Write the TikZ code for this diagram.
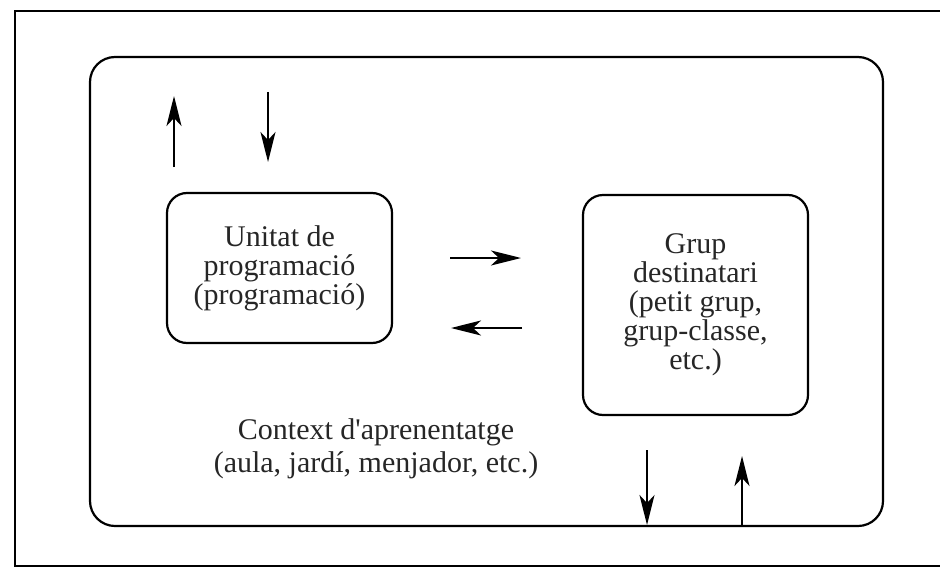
\documentclass[tikz,border=0pt]{standalone}
\usepackage{fontspec}
\setmainfont{Liberation Serif}
\usetikzlibrary{arrows.meta}

\tikzset{
  caixa/.style={draw, line width=1.1pt, rounded corners=10pt, align=center,
    inner sep=0pt, minimum width=112.5pt, text=black!85},
  seta/.style={line width=1.1pt, -{Stealth[length=15pt, width=7.5pt, inset=4pt]}}
}

\begin{document}
\begin{tikzpicture}[x=0.5pt, y=-0.5pt, font=\fontsize{15}{14.5}\selectfont]
  \useasboundingbox (0,0) rectangle (940,567);
  % marc exterior (obert per la dreta)
  \draw[line width=1.1pt] (940,11) -- (15,11) -- (15,566) -- (940,566);
  % context
  \node[draw, line width=1.1pt, rounded corners=12.5pt, inner sep=0pt,
    minimum width=396.5pt, minimum height=234.5pt] (ctx) at (486.5,291.5) {};
  \node[align=center, text=black!85, font=\fontsize{15}{16.5}\selectfont]
    (ctxtext) at (376,449)
    {Context d\textquotesingle aprenentatge\\(aula, jardí, menjador, etc.)};
  % les dues caixes
  \node[caixa, minimum height=75pt] (unitat) at (279.5,268)
    {Unitat de\\programació\\(programació)};
  \node[caixa, minimum height=110pt] (grup) at (695.5,305)
    {Grup\\destinatari\\(petit grup,\\grup-classe,\\etc.)};
  % fletxes: (nom, inici, final)
  \foreach \nom/\xi/\yi/\xf/\yf in {
    amunt/174/167/174/96, avall/268/92/268/162,
    dreta/450/258/521/258, esquerra/522/328/451/328,
    baixa/647/450/647/525, puja/742/526/742/456}
  {
    \coordinate (\nom-i) at (\xi,\yi);
    \coordinate (\nom-f) at (\xf,\yf);
    \draw[seta] (\nom-i) -- (\nom-f);
  }
\end{tikzpicture}
\end{document}
